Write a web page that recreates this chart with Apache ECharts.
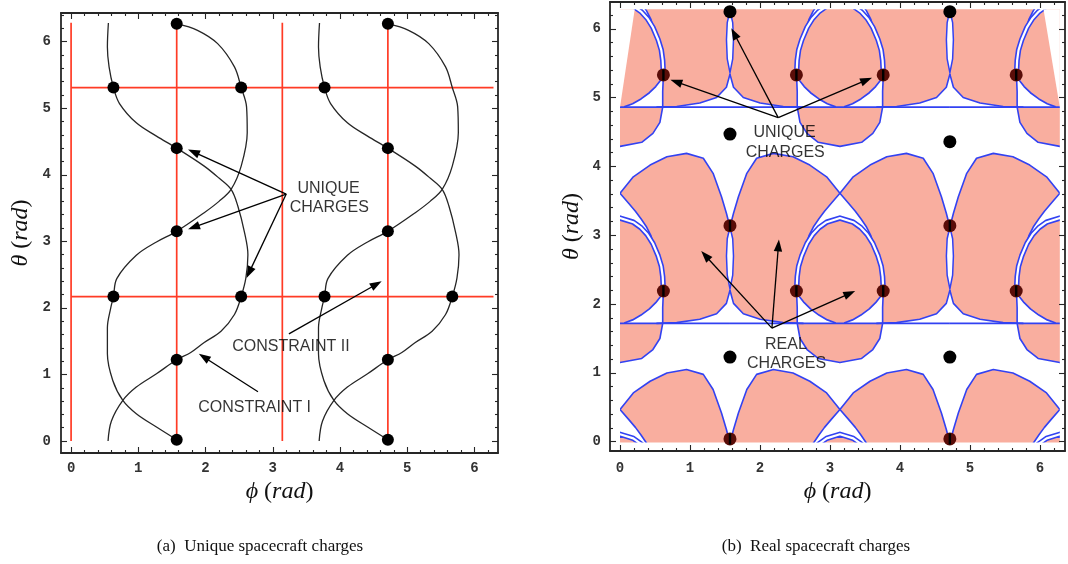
<!DOCTYPE html>
<html>
<head>
<meta charset="utf-8">
<script src="https://cdn.jsdelivr.net/npm/echarts@6.0.0/dist/echarts.min.js"></script>
<style>
html,body{margin:0;padding:0;background:#ffffff;}
#chart{width:1068px;height:564px;}
</style>
</head>
<body>
<div id="chart"></div>
<script>
// ================= DATA : panel (a) =================
const majorTicks = [0, 1, 2, 3, 4, 5, 6];
const minorTicks = [0.2,0.4,0.6,0.8,1.2,1.4,1.6,1.8,2.2,2.4,2.6,2.8,3.2,3.4,3.6,3.8,4.2,4.4,4.6,4.8,5.2,5.4,5.6,5.8,6.2];
const minorTicksYA = minorTicks.concat([6.4]);

const redPhi = [0, 1.571, 3.142, 4.712];     // constraint II, vertical lines
const redTheta = [2.17, 5.31];                // constraint II, horizontal lines
const redExtent = [0, 6.283];

// constraint I curves [phi, theta]
const curveP1 = [[0.55,0.00],[0.60,0.30],[0.77,0.61],[0.97,0.81],[1.27,1.01],[1.57,1.22],[1.78,1.33],[1.98,1.48],[2.23,1.65],[2.43,1.90],[2.53,2.17],[2.60,2.45],[2.63,2.80],[2.58,3.13],[2.48,3.53],[2.38,3.78],[2.20,3.95],[1.98,4.13],[1.57,4.40],[1.27,4.58],[0.97,4.78],[0.72,5.07],[0.63,5.31],[0.565,5.62],[0.54,5.92],[0.555,6.28]];
const curveQ1 = [[1.57,0.02],[1.27,0.21],[0.97,0.41],[0.77,0.61],[0.62,0.91],[0.54,1.31],[0.54,1.70],[0.59,2.00],[0.63,2.17],[0.68,2.44],[0.97,2.79],[1.27,2.99],[1.57,3.15],[1.98,3.43],[2.20,3.60],[2.38,3.78],[2.53,4.13],[2.62,4.63],[2.61,5.02],[2.53,5.31],[2.43,5.62],[2.18,5.97],[1.88,6.17],[1.57,6.27]];
const curveP2 = [[3.69,0.00],[3.74,0.30],[3.91,0.61],[4.11,0.81],[4.41,1.01],[4.71,1.22],[4.92,1.33],[5.12,1.48],[5.37,1.65],[5.57,1.90],[5.67,2.17],[5.74,2.45],[5.77,2.80],[5.72,3.13],[5.62,3.53],[5.52,3.78],[5.34,3.95],[5.12,4.13],[4.71,4.40],[4.41,4.58],[4.11,4.78],[3.86,5.07],[3.77,5.31],[3.705,5.62],[3.68,5.92],[3.695,6.28]];
const curveQ2 = [[4.71,0.02],[4.41,0.21],[4.11,0.41],[3.91,0.61],[3.76,0.91],[3.68,1.31],[3.68,1.70],[3.73,2.00],[3.77,2.17],[3.82,2.44],[4.11,2.79],[4.41,2.99],[4.71,3.15],[5.12,3.43],[5.34,3.60],[5.52,3.78],[5.67,4.13],[5.76,4.63],[5.75,5.02],[5.67,5.31],[5.57,5.62],[5.32,5.97],[5.02,6.17],[4.71,6.27]];

const dotsA = [[1.571,0.02],[1.571,1.22],[1.571,3.15],[1.571,4.40],[1.571,6.27],
  [0.63,2.17],[2.53,2.17],[0.63,5.31],[2.53,5.31],
  [4.712,0.02],[4.712,1.22],[4.712,3.15],[4.712,4.40],[4.712,6.27],
  [3.77,2.17],[5.67,2.17],[3.77,5.31]];

const textA = [['UNIQUE',3.83,3.79],['CHARGES',3.84,3.50],['CONSTRAINT II',3.27,1.42],['CONSTRAINT I',2.73,0.50]];
const arrowsA = [[3.20,3.71,1.74,4.38],[3.20,3.71,1.74,3.18],[3.20,3.71,2.61,2.45],[3.24,1.61,4.62,2.40],[2.78,0.74,1.90,1.31]];

// ================= DATA : panel (b) =================
const minorTicksYB = minorTicks;
// repeating cell positions (ellipse centre phi, theta shift)
const cellAnchors = [[0,0],[3.1416,0],[6.2832,0],[0,3.1416],[3.1416,3.1416],[6.2832,3.1416],[0,-3.1416],[3.1416,-3.1416],[6.2832,-3.1416]];
// shapes of one cell, phi relative to the anchor, theta of the middle band
const lobeRegion = [[-1.571,2.20],[-1.571,3.12],[-1.52,3.32],[-1.45,3.56],[-1.33,3.90],[-1.19,4.12],[-0.95,4.19],[-0.67,4.14],[-0.43,4.02],[-0.19,3.85],[0,3.61],
  [0.19,3.85],[0.43,4.02],[0.67,4.14],[0.95,4.19],[1.19,4.12],[1.33,3.90],[1.45,3.56],[1.52,3.32],[1.571,3.12],
  [1.571,2.20],[1.52,2.01],[1.38,1.86],[1.14,1.78],[0.81,1.73],[0.52,1.72],
  [-0.52,1.72],[-0.81,1.73],[-1.14,1.78],[-1.38,1.86],[-1.52,2.01]];
const ellipseLowRegion = [[-0.61,1.72],[-0.57,1.50],[-0.47,1.34],[-0.31,1.21],[0,1.15],[0.31,1.21],[0.47,1.34],[0.57,1.50],[0.61,1.72]];
const ellipseUpper = [[-0.62,2.19],[-0.61,2.40],[-0.59,2.55],[-0.545,2.70],[-0.47,2.88],[-0.39,3.01],[-0.30,3.11],[-0.19,3.19],[0,3.25],[0.19,3.19],[0.30,3.11],[0.39,3.01],[0.47,2.88],[0.545,2.70],[0.59,2.55],[0.61,2.40],[0.62,2.19]];
const ellipseLower = [[0.62,2.19],[0.61,1.95],[0.61,1.72],[0.57,1.50],[0.47,1.34],[0.31,1.21],[0,1.15],[-0.31,1.21],[-0.47,1.34],[-0.57,1.50],[-0.61,1.72],[-0.61,1.95],[-0.62,2.19]];
const wedgeLeft = [[-0.62,2.19],[-0.61,1.95],[-0.61,1.72],[-0.06,1.725],[-0.18,1.77],[-0.30,1.84],[-0.42,1.93],[-0.51,2.02],[-0.58,2.11]];
const wedgeRight = [[0.62,2.19],[0.61,1.95],[0.61,1.72],[0.06,1.725],[0.18,1.77],[0.30,1.84],[0.42,1.93],[0.51,2.02],[0.58,2.11]];
const wedgeArcLeft = [[-0.06,1.725],[-0.18,1.77],[-0.30,1.84],[-0.42,1.93],[-0.51,2.02],[-0.58,2.11],[-0.62,2.19]];
const wedgeArcRight = [[0.06,1.725],[0.18,1.77],[0.30,1.84],[0.42,1.93],[0.51,2.02],[0.58,2.11],[0.62,2.19]];
const diamondGap = [[0,3.61],[0.12,3.47],[0.22,3.35],[0.30,3.24],[0.38,3.12],[0.44,3.00],[0.48,2.86],
  [0.39,3.01],[0.30,3.11],[0.19,3.19],[0,3.25],[-0.19,3.19],[-0.30,3.11],[-0.39,3.01],
  [-0.48,2.86],[-0.44,3.00],[-0.38,3.12],[-0.30,3.24],[-0.22,3.35],[-0.12,3.47]];
const archLeftLine = [[-1.571,3.12],[-1.52,3.32],[-1.45,3.56],[-1.33,3.90],[-1.19,4.12],[-0.95,4.19],[-0.67,4.14],[-0.43,4.02],[-0.19,3.85],[0,3.61],[0.12,3.47],[0.22,3.35],[0.30,3.24],[0.38,3.12],[0.44,3.00],[0.48,2.86]];
const archRightLine = [[1.571,3.12],[1.52,3.32],[1.45,3.56],[1.33,3.90],[1.19,4.12],[0.95,4.19],[0.67,4.14],[0.43,4.02],[0.19,3.85],[0,3.61],[-0.12,3.47],[-0.22,3.35],[-0.30,3.24],[-0.38,3.12],[-0.44,3.00],[-0.48,2.86]];
const cuspArcLeft = [[-1.571,2.20],[-1.52,2.01],[-1.38,1.86],[-1.14,1.78],[-0.81,1.73],[-0.52,1.72]];
const cuspArcRight = [[1.571,2.20],[1.52,2.01],[1.38,1.86],[1.14,1.78],[0.81,1.73],[0.52,1.72]];
const slitGap = [[1.571,3.12],[1.532,2.95],[1.521,2.70],[1.532,2.42],[1.571,2.22],[1.610,2.42],[1.621,2.70],[1.610,2.95]];
const bandLine = [[-1.571,1.72],[1.571,1.72]];
// white areas outside the computed domain
const maskShapes = [
  [[-0.3,-0.3],[6.6,-0.3],[6.6,-0.01],[-0.3,-0.01]],
  [[-0.3,6.283],[6.6,6.283],[6.6,6.6],[-0.3,6.6]],
  [[-0.3,-0.3],[0,-0.3],[0,6.6],[-0.3,6.6]],
  [[6.283,-0.3],[6.6,-0.3],[6.6,6.6],[6.283,6.6]],
  [[0,4.86],[0.21,6.283],[0,6.283]],
  [[6.283,4.86],[6.283,6.283],[6.05,6.283]]
];
const dotsBBlack = [[1.571,6.25],[4.712,6.25],[1.571,4.47],[4.712,4.36],[1.571,1.23],[4.712,1.23]];
const dotsBRed = [[0.62,5.33],[2.52,5.33],[3.76,5.33],[5.66,5.33],[1.571,3.14],[4.712,3.14],
  [0.62,2.19],[2.52,2.19],[3.76,2.19],[5.66,2.19],[1.571,0.04],[4.712,0.04]];
const textB = [['UNIQUE',2.35,4.49],['CHARGES',2.36,4.20],['REAL',2.37,1.41],['CHARGES',2.38,1.13]];
const arrowsB = [[2.26,4.71,0.72,5.26],[2.26,4.71,1.59,6.01],[2.26,4.71,3.60,5.29],
  [2.17,1.65,1.16,2.77],[2.17,1.65,2.27,2.94],[2.17,1.65,3.36,2.19]];

// ================= STYLE =================
const AXC = '#262626';
const PINK = '#f9ae9f';
const BLUE = '#3242f2';
const RED = '#ff3b25';

const nameStyle = {
  color:'#111', fontSize:24, fontFamily:'Liberation Serif',
  rich:{
    i:{fontStyle:'italic', fontFamily:'Liberation Serif, DejaVu Serif', fontSize:24, color:'#111'},
    n:{fontFamily:'Liberation Serif', fontSize:24, color:'#111'}
  }
};
const nameX = '{i|ϕ}{n| (}{i|rad}{n|)}';
const nameY = '{i|θ}{n| (}{i|rad}{n|)}';

function makeAxes(dim, g, range, minor, name, nameGap, lblMargin){
  const common = {gridIndex:g, type:'value', min:range[0], max:range[1], splitLine:{show:false}, z:10, silent:true};
  const pos = dim === 'x' ? ['bottom','top'] : ['left','right'];
  const line = {show:true, onZero:false, lineStyle:{color:AXC, width:1.8}};
  const noLine = {show:false, onZero:false};
  const tk = {color:AXC, width:1.1};
  return [
    Object.assign({}, common, {position:pos[0], axisLine:line,
      axisTick:{show:true, inside:true, length:6, customValues:majorTicks, lineStyle:tk},
      axisLabel:{show:true, customValues:majorTicks, margin:lblMargin, fontFamily:'Liberation Mono', fontWeight:'bold', fontSize:14, color:'#333'},
      name:name, nameLocation:'middle', nameGap:nameGap, nameTextStyle:nameStyle}),
    Object.assign({}, common, {position:pos[0], axisLine:noLine,
      axisTick:{show:true, inside:true, length:3, customValues:minor, lineStyle:tk}, axisLabel:{show:false}}),
    Object.assign({}, common, {position:pos[1], axisLine:line,
      axisTick:{show:true, inside:true, length:6, customValues:majorTicks, lineStyle:tk}, axisLabel:{show:false}}),
    Object.assign({}, common, {position:pos[1], axisLine:noLine,
      axisTick:{show:true, inside:true, length:3, customValues:minor, lineStyle:tk}, axisLabel:{show:false}})
  ];
}

const rangeXA = [-0.15, 6.35], rangeYA = [-0.18, 6.43];
const rangeXB = [-0.143, 6.357], rangeYB = [-0.135, 6.39];

// helpers
function cellMapper(api){
  const ox = api.value(0), oy = api.value(1);
  return arr => arr.map(p => api.coord([p[0] + ox, p[1] + oy]));
}
function poly(points, fill){ return {type:'polygon', shape:{points:points}, style:{fill:fill}}; }
function pline(points, color, w){ return {type:'polyline', shape:{points:points}, style:{stroke:color, lineWidth:w, fill:'none', lineJoin:'round'}}; }

function arrowItem(params, api){
  const a = api.coord([api.value(0), api.value(1)]);
  const b = api.coord([api.value(2), api.value(3)]);
  const dx = b[0]-a[0], dy = b[1]-a[1], L = Math.hypot(dx, dy), ux = dx/L, uy = dy/L;
  const hl = 12, hw = 4.2;
  const bx = b[0]-ux*hl, by = b[1]-uy*hl;
  return {type:'group', children:[
    {type:'line', shape:{x1:a[0], y1:a[1], x2:bx+ux*2, y2:by+uy*2}, style:{stroke:'#000', lineWidth:1.3}},
    {type:'polygon', shape:{points:[[b[0],b[1]],[bx-uy*hw, by+ux*hw],[bx+uy*hw, by-ux*hw]]}, style:{fill:'#000'}}
  ]};
}

const redSegs = redPhi.map(x => [x, redExtent[0], x, redExtent[1]])
  .concat(redTheta.map(y => [redExtent[0], y, redExtent[1], y]));

function textSeries(list, xi, z){
  return {type:'scatter', xAxisIndex:xi, yAxisIndex:xi, z:z, silent:true, symbolSize:1,
    itemStyle:{color:'rgba(0,0,0,0)'},
    data:list.map(t => ({name:t[0], value:[t[1], t[2]]})),
    label:{show:true, position:'inside', formatter:'{b}', fontFamily:'Liberation Sans', fontSize:16, color:'#000'}};
}

const series = [
  // ---------- panel (a) ----------
  {type:'custom', xAxisIndex:0, yAxisIndex:0, z:2, silent:true, data:redSegs,
    encode:{x:[0,2], y:[1,3]},
    renderItem:(params, api) => {
      const a = api.coord([api.value(0), api.value(1)]), b = api.coord([api.value(2), api.value(3)]);
      return {type:'line', shape:{x1:a[0], y1:a[1], x2:b[0], y2:b[1]}, style:{stroke:RED, lineWidth:1.7}};
    }},
].concat([curveP1, curveQ1, curveP2, curveQ2].map(c => ({
    type:'line', xAxisIndex:0, yAxisIndex:0, z:3, silent:true, data:c, showSymbol:false, symbol:'none',
    smooth:0.35, lineStyle:{color:'#262626', width:1.3}
  }))).concat([
  {type:'scatter', xAxisIndex:0, yAxisIndex:0, z:4, silent:true, data:dotsA, symbolSize:12, itemStyle:{color:'#000', opacity:1}},
  {type:'custom', xAxisIndex:0, yAxisIndex:0, z:5, silent:true, data:arrowsA, encode:{x:[0,2], y:[1,3]}, renderItem:arrowItem},
  textSeries(textA, 0, 6),

  // ---------- panel (b) ----------
  {type:'custom', xAxisIndex:4, yAxisIndex:4, z:2, silent:true, clip:true, data:cellAnchors, encode:{x:0, y:1},
    renderItem:(params, api) => {
      const m = cellMapper(api);
      return {type:'group', children:[poly(m(lobeRegion), PINK), poly(m(ellipseLowRegion), PINK)]};
    }},
  {type:'custom', xAxisIndex:4, yAxisIndex:4, z:3, silent:true, clip:true, data:cellAnchors, encode:{x:0, y:1},
    renderItem:(params, api) => {
      const m = cellMapper(api);
      return {type:'group', children:[poly(m(wedgeLeft), '#ffffff'), poly(m(wedgeRight), '#ffffff'), poly(m(diamondGap), '#ffffff')]};
    }},
  {type:'custom', xAxisIndex:4, yAxisIndex:4, z:4, silent:true, clip:true, data:cellAnchors, encode:{x:0, y:1},
    renderItem:(params, api) => {
      const m = cellMapper(api);
      const up = m(ellipseUpper);
      return {type:'group', children:[
        pline(m(archLeftLine), BLUE, 1.6), pline(m(archRightLine), BLUE, 1.6),
        pline(m(cuspArcLeft), BLUE, 1.6), pline(m(cuspArcRight), BLUE, 1.6),
        pline(m(wedgeArcLeft), BLUE, 1.7), pline(m(wedgeArcRight), BLUE, 1.7),
        pline(m(ellipseLower), BLUE, 1.6), pline(m(bandLine), BLUE, 1.6),
        {type:'polygon', shape:{points:m(slitGap)}, style:{fill:'#fff', stroke:BLUE, lineWidth:1.5}},
        pline(up, BLUE, 5.4), pline(up, '#fff', 2.2)
      ]};
    }},
  {type:'custom', xAxisIndex:4, yAxisIndex:4, z:5, silent:true, clip:true,
    data:maskShapes.map((s, i) => [s[0][0], s[0][1], i]), encode:{x:0, y:1},
    renderItem:(params, api) => {
      const s = maskShapes[api.value(2)];
      return poly(s.map(p => api.coord(p)), '#fff');
    }},
  {type:'scatter', xAxisIndex:4, yAxisIndex:4, z:6, silent:true, data:dotsBBlack, symbolSize:13, itemStyle:{color:'#000', opacity:1}},
  {type:'scatter', xAxisIndex:4, yAxisIndex:4, z:6, silent:true, data:dotsBRed, symbolSize:13, itemStyle:{color:'#5a0d08', opacity:1}},
  {type:'custom', xAxisIndex:4, yAxisIndex:4, z:7, silent:true, data:dotsBRed, encode:{x:0, y:1},
    renderItem:(params, api) => {
      const p = api.coord([api.value(0), api.value(1)]);
      return {type:'line', shape:{x1:p[0], y1:p[1]-5.5, x2:p[0], y2:p[1]+5.5}, style:{stroke:'#000', lineWidth:2.4}};
    }},
  {type:'custom', xAxisIndex:4, yAxisIndex:4, z:8, silent:true, data:arrowsB, encode:{x:[0,2], y:[1,3]}, renderItem:arrowItem},
  textSeries(textB, 4, 9)
]);

const option = {
  animation:false,
  backgroundColor:'#ffffff',
  grid:[
    {left:61, top:13, width:437, height:440},
    {left:610, top:2, width:455, height:449}
  ],
  xAxis: makeAxes('x', 0, rangeXA, minorTicks, nameX, 22, 8).concat(makeAxes('x', 1, rangeXB, minorTicks, nameX, 24, 10)),
  yAxis: makeAxes('y', 0, rangeYA, minorTicksYA, nameY, 28, 10).concat(makeAxes('y', 1, rangeYB, minorTicksYB, nameY, 26, 9)),
  series: series,
  graphic:[
    {type:'text', x:260, y:547, silent:true, style:{text:'(a)  Unique spacecraft charges', fontFamily:'Liberation Serif', fontSize:17, fill:'#111', textAlign:'center', textVerticalAlign:'middle'}},
    {type:'text', x:816, y:547, silent:true, style:{text:'(b)  Real spacecraft charges', fontFamily:'Liberation Serif', fontSize:17, fill:'#111', textAlign:'center', textVerticalAlign:'middle'}}
  ]
};

const chart = echarts.init(document.getElementById('chart'), null, {renderer:'canvas'});
chart.setOption(option);
</script>
</body>
</html>
